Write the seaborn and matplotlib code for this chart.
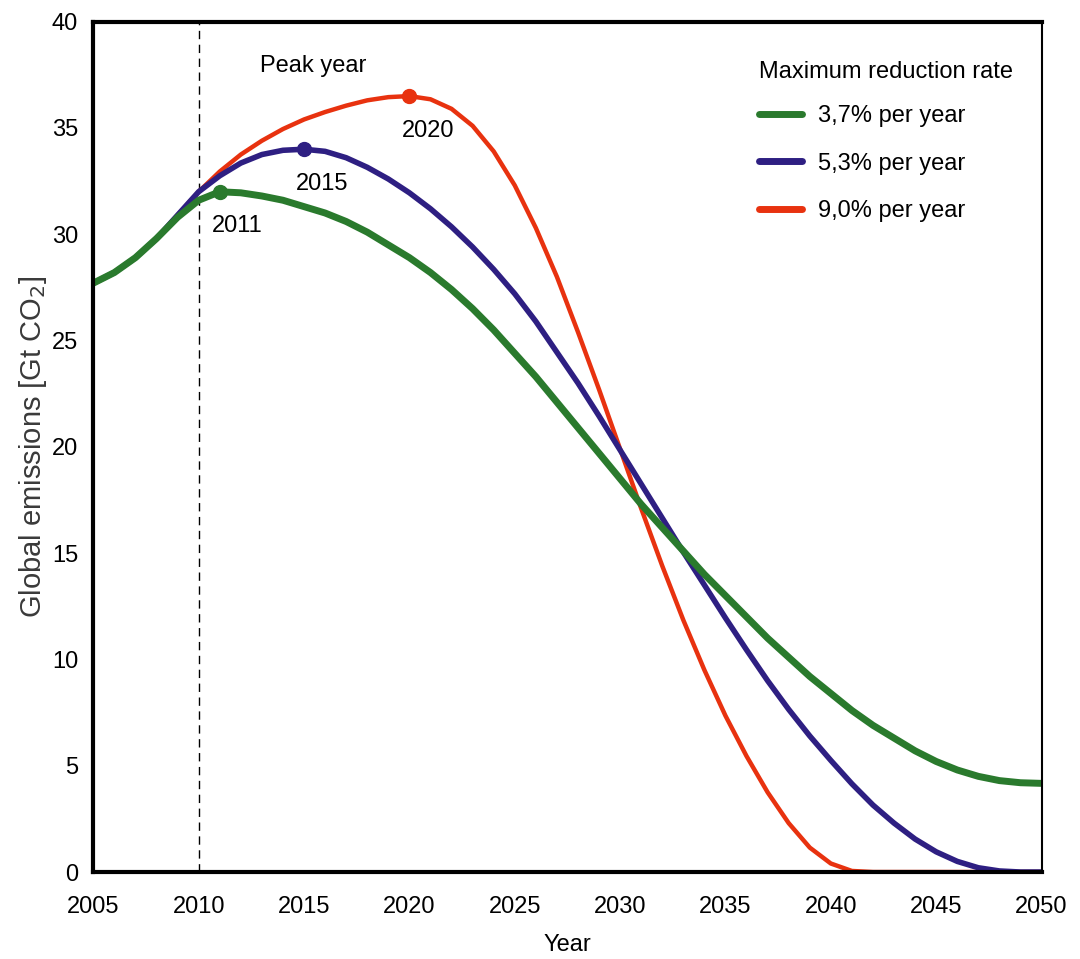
import matplotlib
matplotlib.use("Agg")
import matplotlib.pyplot as plt
import pandas as pd
import seaborn as sns

years = list(range(2005, 2051))

green_37 = [27.7, 28.2, 28.9, 29.8, 30.8, 31.6, 32.0, 31.95, 31.8, 31.6,
            31.3, 31.0, 30.6, 30.1, 29.5, 28.9, 28.2, 27.4, 26.5, 25.5,
            24.4, 23.3, 22.1, 20.9, 19.7, 18.5, 17.3, 16.2, 15.1, 14.0,
            13.0, 12.0, 11.0, 10.1, 9.2, 8.4, 7.6, 6.9, 6.3, 5.7,
            5.2, 4.8, 4.5, 4.3, 4.2, 4.17]
blue_53 = [27.7, 28.2, 28.9, 29.8, 30.9, 32.0, 32.75, 33.35, 33.75, 33.95,
           34.0, 33.9, 33.6, 33.15, 32.6, 31.95, 31.2, 30.35, 29.4, 28.35,
           27.2, 25.9, 24.45, 23.0, 21.45, 19.85, 18.25, 16.65, 15.05, 13.5,
           11.95, 10.45, 9.0, 7.65, 6.4, 5.25, 4.15, 3.15, 2.3, 1.55,
           0.95, 0.5, 0.2, 0.05, 0.0, 0.0]
red_90 = [27.7, 28.2, 28.9, 29.8, 30.9, 32.0, 32.95, 33.75, 34.4, 34.95,
          35.4, 35.75, 36.05, 36.3, 36.45, 36.5, 36.35, 35.9, 35.1, 33.9,
          32.3, 30.3, 28.0, 25.4, 22.7, 19.9, 17.1, 14.4, 11.85, 9.5,
          7.35, 5.45, 3.75, 2.3, 1.15, 0.4, 0.05, 0.0, 0.0, 0.0,
          0.0, 0.0, 0.0, 0.0, 0.0, 0.0]

labels = ["3,7% per year", "5,3% per year", "9,0% per year"]
peak_years = [2011, 2015, 2020]
peak_values = [32.0, 34.0, 36.5]

colors = ["#2a7a2d", "#2e1f82", "#e8320f"]
widths = [5.0, 4.0, 3.2]

sns.set_style("white")
plt.rcParams["font.family"] = ["Liberation Sans Narrow", "Liberation Sans", "DejaVu Sans"]
plt.rcParams["text.color"] = "black"
plt.rcParams["axes.labelcolor"] = "black"

fig = plt.figure(figsize=(10.8, 9.59), dpi=100)
ax = fig.add_axes([0.0864, 0.0907, 0.878, 0.8867])

series = [green_37, blue_53, red_90]
# red at the bottom, green on top (as in the reference)
handles = [None] * 3
for i in [2, 1, 0]:
    df = pd.DataFrame({"Year": years, "Emissions": series[i]})
    sns.lineplot(data=df, x="Year", y="Emissions", color=colors[i],
                 linewidth=widths[i], ax=ax, solid_joinstyle="round")
    handles[i] = ax.lines[-1]

for py, pv, col in zip(peak_years, peak_values, colors):
    ax.plot(py, pv, "o", color=col, markersize=10, zorder=5)

ax.axvline(2010, color="black", linestyle=(0, (6, 4)), linewidth=1.0, zorder=0)

txt = dict(fontsize=17, color="black")
ax.text(2011.85, 30.4, "2011", ha="center", va="center", **txt)
ax.text(2015.85, 32.35, "2015", ha="center", va="center", **txt)
ax.text(2020.9, 34.85, "2020", ha="center", va="center", **txt)
ax.text(2015.45, 37.9, "Peak year", ha="center", va="center", **txt)

ax.set_xlim(2005, 2050)
ax.set_ylim(0, 40)
ax.set_xticks(range(2005, 2051, 5))
ax.set_yticks(range(0, 41, 5))
ax.tick_params(axis="both", direction="out", length=6, width=2.5,
               labelsize=17, colors="black")
ax.tick_params(axis="x", pad=11)
ax.tick_params(axis="y", pad=5)
ax.set_xlabel("Year", fontsize=17, labelpad=12)
ax.set_ylabel("Global emissions [Gt CO$_2$]", fontsize=21, color="#3a3a3a",
              family=["Liberation Sans", "DejaVu Sans"], labelpad=2)

for side in ["left", "bottom", "top"]:
    ax.spines[side].set_linewidth(3)
    ax.spines[side].set_color("black")
ax.spines["right"].set_linewidth(1.5)
ax.spines["right"].set_color("black")

leg = ax.legend(handles, labels, loc="upper left", bbox_to_anchor=(0.68, 0.979),
                frameon=False, title="Maximum reduction rate", fontsize=17,
                title_fontsize=17, handlelength=1.8, handletextpad=0.7,
                labelspacing=1.08, alignment="left")
leg._legend_box.sep = 16
for line in leg.get_lines():
    line.set_linewidth(5)

fig.savefig("out.png", dpi=100)
